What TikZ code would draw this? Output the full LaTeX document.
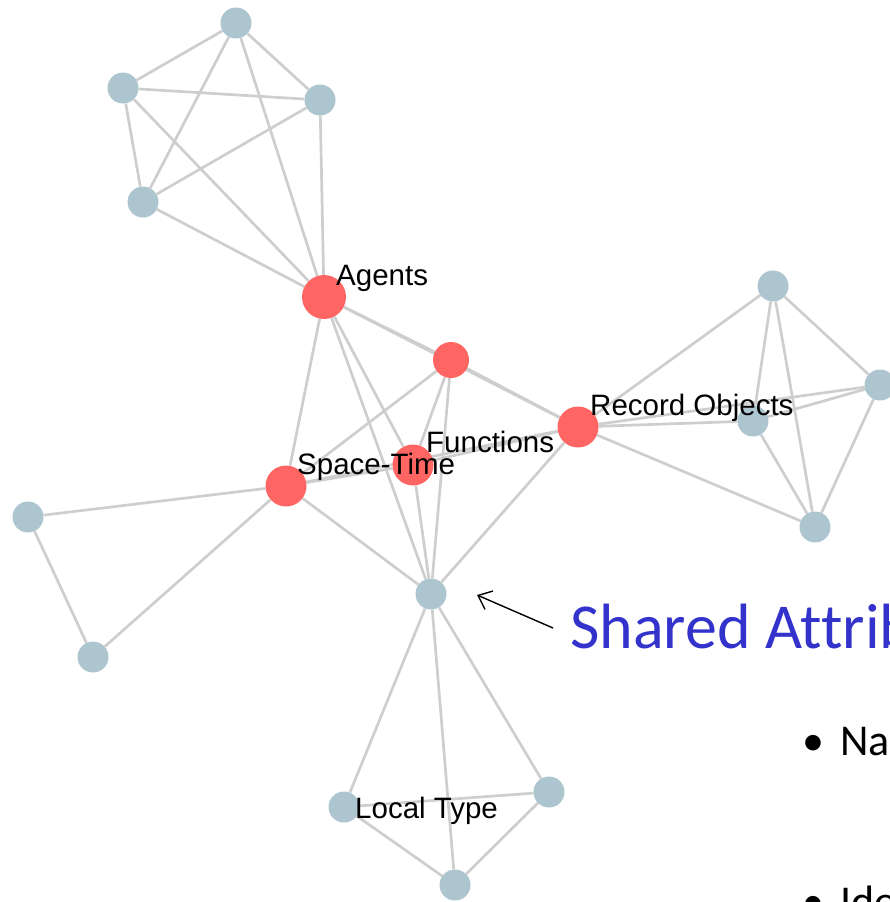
\documentclass[tikz,border=0pt]{standalone}
\usepackage{fontspec}
\setmainfont{Liberation Sans}
\newfontfamily\slidefont[Ligatures=NoCommon]{Carlito}
\usepackage{tikz}
\usetikzlibrary{arrows.meta,backgrounds}
\definecolor{nodeblue}{RGB}{173,197,207}
\definecolor{nodered}{RGB}{255,102,99}
\definecolor{linkgray}{RGB}{206,206,206}
\definecolor{slideblue}{RGB}{51,51,204}

\begin{document}
\begin{tikzpicture}[x=1pt, y=-1pt,
            main/.style = {circle, fill=nodeblue, inner sep=0pt, minimum size=31pt},
            hot/.style = {main, fill=nodered},
            tag/.style = {anchor=base west, inner sep=0pt, font=\fontsize{29.5}{31}\selectfont},
            link/.style = {draw=linkgray, line width=2.7pt}]
            \useasboundingbox (0,0) rectangle (890,902);
            % Nodes
            \node[main] (1) at (236,23) {};
            \node[main] (2) at (123,88) {};
            \node[main] (3) at (320,100) {};
            \node[main] (4) at (143,202) {};
            \node[hot, minimum size=44pt] (5) at (324,297) {};
            \node[hot, minimum size=36pt] (6) at (451,360) {};
            \node[hot, minimum size=41pt] (7) at (578,427) {};
            \node[hot, minimum size=41pt] (8) at (413,465) {};
            \node[hot, minimum size=41pt] (9) at (286,486) {};
            \node[main] (10) at (773,286) {};
            \node[main] (11) at (880,385) {};
            \node[main] (12) at (753,421) {};
            \node[main] (13) at (815,527) {};
            \node[main] (14) at (28,517) {};
            \node[main] (15) at (93,657) {};
            \node[main] (16) at (431,594) {};
            \node[main] (17) at (344,807) {};
            \node[main] (18) at (549,792) {};
            \node[main] (19) at (455,885) {};
            % Labels
            \node[tag] (agents) at (336,285) {Agents};
            \node[tag] (record) at (590,415) {Record Objects};
            \node[tag] (funcs) at (426,452) {Functions};
            \node[tag] (space) at (297,474) {Space-Time};
            \node[tag] (local) at (355,818) {Local Type};
            % Edges
            \begin{pgfonlayer}{background}
            \draw[link] (1) -- (2);
            \draw[link] (1) -- (3);
            \draw[link] (1) -- (4);
            \draw[link] (1) -- (5);
            \draw[link] (2) -- (3);
            \draw[link] (2) -- (4);
            \draw[link] (2) -- (5);
            \draw[link] (3) -- (4);
            \draw[link] (3) -- (5);
            \draw[link] (4) -- (5);
            \draw[link] (5) -- (6);
            \draw[link] (5) -- (7);
            \draw[link] (5) -- (8);
            \draw[link] (5) -- (9);
            \draw[link] (5) -- (16);
            \draw[link] (6) -- (7);
            \draw[link] (6) -- (8);
            \draw[link] (6) -- (9);
            \draw[link] (6) -- (16);
            \draw[link] (7) -- (8);
            \draw[link] (7) -- (9);
            \draw[link] (8) -- (9);
            \draw[link] (7) -- (16);
            \draw[link] (8) -- (16);
            \draw[link] (9) -- (16);
            \draw[link] (9) -- (14);
            \draw[link] (9) -- (15);
            \draw[link] (14) -- (15);
            \draw[link] (7) -- (10);
            \draw[link] (7) -- (11);
            \draw[link] (7) -- (12);
            \draw[link] (7) -- (13);
            \draw[link] (10) -- (11);
            \draw[link] (10) -- (12);
            \draw[link] (10) -- (13);
            \draw[link] (11) -- (12);
            \draw[link] (11) -- (13);
            \draw[link] (12) -- (13);
            \draw[link] (16) -- (17);
            \draw[link] (16) -- (18);
            \draw[link] (16) -- (19);
            \draw[link] (17) -- (18);
            \draw[link] (17) -- (19);
            \draw[link] (18) -- (19);
            \end{pgfonlayer}
            % Slide text
            \node[anchor=base west, inner sep=0pt, text=slideblue, font=\slidefont\fontsize{64}{70}\selectfont] (title) at (570,648) {Shared Attrib};
            \node[anchor=base west, inner sep=0pt, font=\slidefont\fontsize{44}{50}\selectfont] (item1) at (802,755) {\textbullet\hspace{16pt}Na};
            \node[anchor=base west, inner sep=0pt, font=\slidefont\fontsize{44}{50}\selectfont] (item2) at (802,916) {\textbullet\hspace{16pt}Ide};
            \coordinate (tail) at (553,628);
            \coordinate (tip) at (477,595);
            \draw[-{Straight Barb[length=12pt, width=20pt]}, line width=1.4pt] (tail) -- (tip);
            \end{tikzpicture}
\end{document}
